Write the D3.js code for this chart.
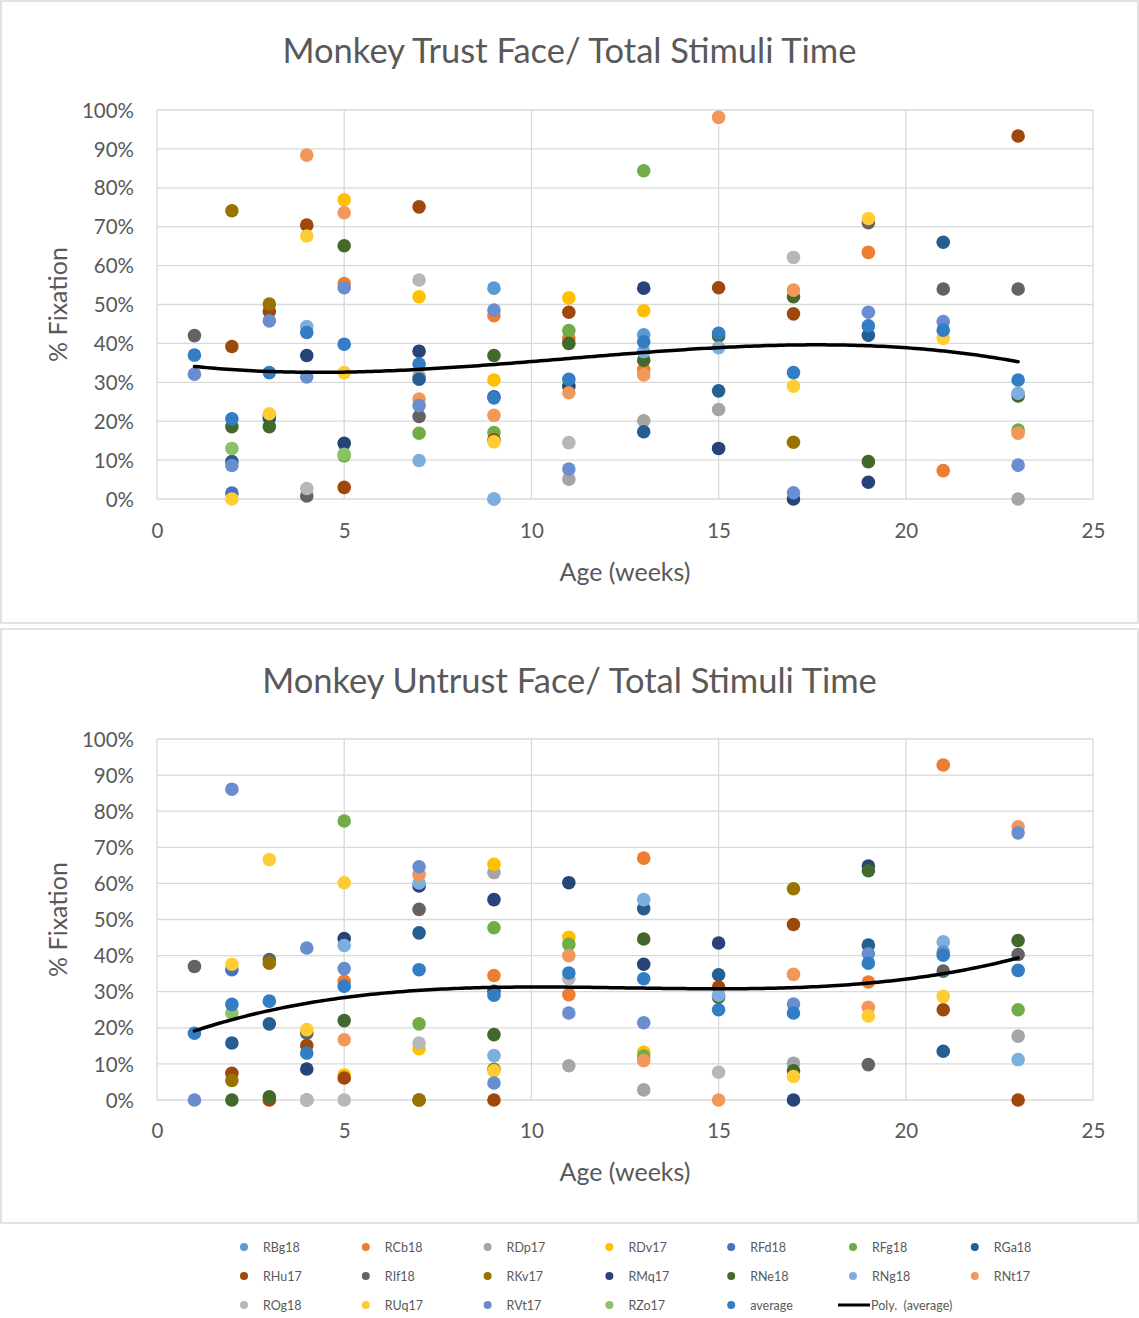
<!DOCTYPE html>
<html>
<head>
<meta charset="utf-8">
<script src="https://cdn.jsdelivr.net/npm/d3@7"></script>
<style>
  html, body { margin: 0; padding: 0; background: #ffffff; }
  svg { display: block; }
  text { font-family: Lato, "Open Sans", sans-serif; fill: #595959; }
</style>
</head>
<body>
<svg id="chart" width="1139" height="1318"></svg>
<script>
// Age of each session, in weeks
const ages = [1, 2, 3, 4, 5, 7, 9, 11, 13, 15, 17, 19, 21, 23];

const seriesNames = ["RBg18", "RCb18", "RDp17", "RDv17", "RFd18", "RFg18", "RGa18",
  "RHu17", "RIf18", "RKv17", "RMq17", "RNe18", "RNg18", "RNt17",
  "ROg18", "RUq17", "RVt17", "RZo17", "average"];

const seriesColors = ["#5B9BD5", "#ED7D31", "#A5A5A5", "#FFC000", "#4472C4", "#70AD47", "#255E91",
  "#9E480E", "#636363", "#997300", "#264478", "#43682B", "#7CAFDD", "#F1975A",
  "#B7B7B7", "#FFCD33", "#698ED0", "#8CC168", "#327DC3"];

const n = null;

// % fixation on the trusted monkey face, one row per series, aligned with ages
const trustValues = [
  [n, n, n, n, n, n, 54.2, n, 42.2, n, n, n, n, n],
  [n, n, n, n, 55.4, n, 47.1, 41.3, 33.3, n, n, 63.4, 7.3, n],
  [n, n, n, n, n, 31.6, 0, 5.1, 20.1, 23.0, n, n, n, 0],
  [n, n, n, n, 76.9, 52.0, 30.6, 51.7, 48.4, n, n, n, n, n],
  [n, 1.5, n, n, n, n, n, n, n, n, n, n, n, n],
  [n, n, n, n, 11.1, 16.9, 17.1, 43.3, 84.4, n, n, n, n, 17.7],
  [n, 9.6, 20.7, n, n, 30.8, 26.3, n, 17.3, 27.8, n, 42.1, 66.0, n],
  [n, 39.2, 48.2, 70.4, 3.0, 75.1, 15.2, 48.0, n, 54.3, 47.6, n, n, 93.3],
  [42.0, n, n, 0.8, n, 21.2, n, n, n, n, n, 71.0, 54.0, 54.0],
  [n, 74.1, 50.1, n, n, n, n, n, n, n, 14.6, n, n, n],
  [n, n, 21.4, 36.9, 14.3, 38.0, n, 29.0, 54.2, 13.0, 0, 4.3, n, n],
  [n, 18.6, 18.6, n, 65.1, n, 36.9, 40.0, 35.7, 41.9, 52.0, 9.6, n, 26.5],
  [n, n, n, 44.3, n, 9.9, 0, n, 37.9, 38.9, n, n, n, 27.2],
  [n, n, n, 88.4, 73.6, 25.7, 21.5, 27.3, 31.9, 98.1, 53.7, n, n, 16.9],
  [n, n, n, 2.7, n, 56.3, n, 14.5, n, n, 62.1, n, n, n],
  [n, 0, 21.9, 67.6, 32.5, n, 14.7, n, n, n, 29.0, 72.1, 41.3, n],
  [32.1, 8.6, 45.8, 31.4, 54.3, 24.0, 48.6, 7.7, n, n, 1.6, 48.0, 45.6, 8.7],
  [n, 13.0, n, n, 11.5, n, n, n, n, n, n, n, n, n],
  [37.0, 20.6, 32.5, 42.8, 39.8, 34.7, 26.0, 30.8, 40.4, 42.6, 32.5, 44.5, 43.4, 30.6]
];

// % fixation on the untrusted monkey face
const untrustValues = [
  [n, n, n, n, n, n, n, n, n, n, n, n, n, n],
  [n, n, n, n, 32.9, n, 34.5, 29.2, 67.0, n, n, 32.7, 92.8, n],
  [n, n, n, n, n, n, 63.0, 9.5, 2.8, n, 10.2, n, n, 17.7],
  [n, n, n, n, 6.9, 14.2, 65.3, 45.1, 13.2, n, n, n, n, n],
  [n, 36.1, n, n, n, n, n, n, n, n, n, n, n, n],
  [n, n, n, n, 77.3, 21.1, 47.7, 43.1, 12.2, n, n, n, n, 25.0],
  [n, 15.8, 21.1, n, n, 46.3, 30.1, n, 53.0, 34.7, n, 42.9, 13.5, n],
  [n, 7.4, 0, 15.1, 6.1, 0, 0, n, n, 31.3, 48.6, n, 25.0, 0],
  [37.0, n, 38.9, 18.5, n, 52.8, n, n, n, n, n, 9.8, 35.7, 40.3],
  [n, 5.4, 37.9, n, n, 0, 8.5, n, n, n, 58.5, n, n, n],
  [n, n, n, 8.6, 44.7, 59.3, 55.5, 60.2, 37.6, 43.5, 0, 64.8, n, n],
  [n, 0, 0.9, n, 22.0, n, 18.1, n, 44.6, 28.5, 8.1, 63.5, n, 44.2],
  [n, n, n, 0, 42.8, 60.1, 12.3, n, 55.5, 29.0, n, n, 43.8, 11.2],
  [n, n, n, 0, 16.7, 62.5, n, 40.0, 10.9, 0, 34.8, 25.7, n, 75.7],
  [n, n, n, 0, 0, 15.8, n, 33.6, n, 7.7, n, n, n, n],
  [n, 37.6, 66.6, 19.5, 60.2, n, 8.1, n, n, n, 6.5, 23.3, 28.7, n],
  [0, 86.1, n, 42.1, 36.4, 64.6, 4.7, 24.1, 21.4, n, 26.6, 40.5, 41.0, 74.0],
  [n, 24.1, n, n, n, n, n, n, n, n, n, n, n, n],
  [18.5, 26.5, 27.4, 13.0, 31.5, 36.1, 29.0, 35.2, 33.6, 25.0, 24.1, 37.9, 40.1, 35.9]
];

const xTicks = [0, 5, 10, 15, 20, 25];
const yTicks = [0, 10, 20, 30, 40, 50, 60, 70, 80, 90, 100];
const chartTitles = ["Monkey Trust Face/ Total Stimuli Time", "Monkey Untrust Face/ Total Stimuli Time"];
const xAxisTitle = "Age (weeks)";
const yAxisTitle = "% Fixation";
const trendOrder = 3;
const trendLabel = "Poly.  (average)";

const svg = d3.select("#chart");

// Least-squares polynomial fit, returns coefficients c0..ck
function polyFit(xs, ys, order) {
  const m = order + 1;
  const A = Array.from({length: m}, () => new Array(m + 1).fill(0));
  xs.forEach((x, i) => {
    for (let r = 0; r < m; r++) {
      for (let c = 0; c < m; c++) A[r][c] += Math.pow(x, r + c);
      A[r][m] += ys[i] * Math.pow(x, r);
    }
  });
  for (let p = 0; p < m; p++) {
    let best = p;
    for (let r = p + 1; r < m; r++) if (Math.abs(A[r][p]) > Math.abs(A[best][p])) best = r;
    [A[p], A[best]] = [A[best], A[p]];
    for (let r = 0; r < m; r++) {
      if (r === p) continue;
      const f = A[r][p] / A[p][p];
      for (let c = p; c <= m; c++) A[r][c] -= f * A[p][c];
    }
  }
  return A.map((row, i) => row[m] / row[i]);
}

function drawPanel(cfg, values, title) {
  const g = svg.append("g");

  g.append("rect")
    .attr("x", cfg.box.x).attr("y", cfg.box.y)
    .attr("width", cfg.box.w).attr("height", cfg.box.h)
    .attr("fill", "#ffffff").attr("stroke", "#d9d9d9").attr("stroke-width", 1.5);

  const x = d3.scaleLinear().domain([0, 25]).range([cfg.left, cfg.right]);
  const y = d3.scaleLinear().domain([0, 100]).range([cfg.bottom, cfg.top]);

  // gridlines
  g.append("g").selectAll("line.h").data(yTicks).join("line")
    .attr("x1", cfg.left).attr("x2", cfg.right)
    .attr("y1", d => y(d)).attr("y2", d => y(d))
    .attr("stroke", "#d9d9d9").attr("stroke-width", 1.3);
  g.append("g").selectAll("line.v").data(xTicks).join("line")
    .attr("x1", d => x(d)).attr("x2", d => x(d))
    .attr("y1", cfg.top).attr("y2", cfg.bottom)
    .attr("stroke", "#d9d9d9").attr("stroke-width", 1.3);

  // axes (labels only, Excel style)
  const yAxis = g.append("g").attr("transform", `translate(${cfg.left - 23},0)`)
    .call(d3.axisLeft(y).tickValues(yTicks).tickFormat(d => d + "%").tickSize(0).tickPadding(0));
  yAxis.select(".domain").remove();
  yAxis.selectAll("text").attr("font-size", 20.5).attr("fill", "#595959")
    .attr("font-family", "Lato, sans-serif").attr("dy", "0.35em");

  const xAxis = g.append("g").attr("transform", `translate(0,${cfg.xTickY})`)
    .call(d3.axisBottom(x).tickValues(xTicks).tickFormat(d3.format("d")).tickSize(0).tickPadding(0));
  xAxis.select(".domain").remove();
  xAxis.selectAll("text").attr("font-size", 20.5).attr("fill", "#595959")
    .attr("font-family", "Lato, sans-serif").attr("dy", "0.35em");

  // titles
  g.append("text").attr("x", cfg.box.x + cfg.box.w / 2).attr("y", cfg.titleY)
    .attr("text-anchor", "middle").attr("dominant-baseline", "central")
    .attr("font-size", 34.5).text(title);
  g.append("text").attr("x", (cfg.left + cfg.right) / 2).attr("y", cfg.xTitleY)
    .attr("text-anchor", "middle").attr("dominant-baseline", "central")
    .attr("font-size", 25).text(xAxisTitle);
  g.append("text")
    .attr("transform", `translate(${cfg.yTitleX},${(cfg.top + cfg.bottom) / 2}) rotate(-90)`)
    .attr("text-anchor", "middle").attr("dominant-baseline", "central")
    .attr("font-size", 25).text(yAxisTitle);

  // markers, series in order so later series sit on top
  values.forEach((row, si) => {
    const pts = ages.map((a, i) => ({a, v: row[i]})).filter(d => d.v !== null);
    g.append("g").selectAll("circle").data(pts).join("circle")
      .attr("cx", d => x(d.a)).attr("cy", d => y(d.v)).attr("r", 6.8)
      .attr("fill", seriesColors[si]);
  });

  // polynomial trendline of the average series
  const avg = values[values.length - 1];
  const coef = polyFit(ages, avg, trendOrder);
  const fx = t => coef.reduce((s, c, k) => s + c * Math.pow(t, k), 0);
  const samples = d3.range(0, 201).map(i => ages[0] + (ages[ages.length - 1] - ages[0]) * i / 200);
  g.append("path")
    .datum(samples)
    .attr("d", d3.line().x(t => x(t)).y(t => y(fx(t))))
    .attr("fill", "none").attr("stroke", "#000000").attr("stroke-width", 3.5)
    .attr("stroke-linecap", "round");
}

drawPanel({box: {x: 1, y: 1, w: 1137, h: 622}, left: 157, right: 1093, top: 110, bottom: 499,
  titleY: 49, xTickY: 531, xTitleY: 571, yTitleX: 57}, trustValues, chartTitles[0]);
drawPanel({box: {x: 1, y: 629, w: 1137, h: 594}, left: 157, right: 1093, top: 739, bottom: 1100,
  titleY: 679, xTickY: 1131, xTitleY: 1171, yTitleX: 57}, untrustValues, chartTitles[1]);

// legend
const legendItems = seriesNames.map((name, i) => ({name, color: seriesColors[i], line: false}));
legendItems.push({name: trendLabel, color: "#000000", line: true});
const legend = svg.append("g");
legendItems.forEach((d, i) => {
  const col = i % 7, row = Math.floor(i / 7);
  const lx = 244 + col * 121.8, ly = 1247 + row * 29;
  if (d.line) {
    legend.append("line").attr("x1", lx - 15).attr("x2", lx + 17).attr("y1", ly).attr("y2", ly)
      .attr("stroke", d.color).attr("stroke-width", 3);
    legend.append("text").attr("x", lx + 18).attr("y", ly).attr("dominant-baseline", "central")
      .attr("font-size", 12.5).attr("xml:space", "preserve").style("white-space", "pre").text(d.name);
  } else {
    legend.append("circle").attr("cx", lx).attr("cy", ly).attr("r", 4).attr("fill", d.color);
    legend.append("text").attr("x", lx + 19).attr("y", ly).attr("dominant-baseline", "central")
      .attr("font-size", 12.5).text(d.name);
  }
});
</script>
</body>
</html>
